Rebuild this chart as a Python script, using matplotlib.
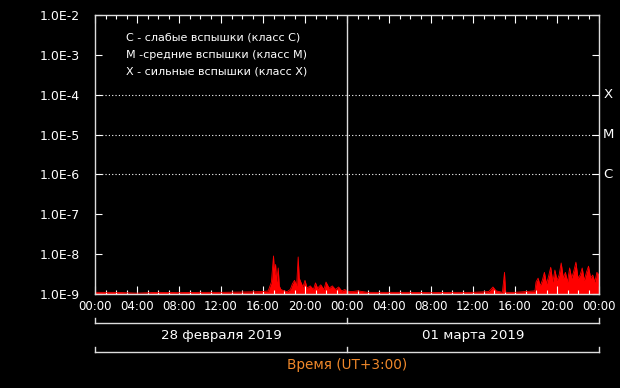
import matplotlib
matplotlib.use("Agg")
import matplotlib.pyplot as plt
from matplotlib.ticker import FixedLocator, MultipleLocator, NullFormatter
import numpy as np

# hours since 00:00 28.02.2019 and X-ray flux (x 1e-9)
hours = [0, 2, 4, 6, 8, 10, 12, 14, 16, 16.5, 16.8, 17.0, 17.1, 17.2, 17.3,
         17.45, 17.55, 17.7, 18.0, 18.3, 18.6, 18.8, 19.0, 19.2, 19.35, 19.45,
         19.6, 19.8, 20.0, 20.2, 20.5, 20.8, 21.0, 21.2, 21.5, 21.8, 22.0,
         22.3, 22.6, 22.9, 23.2, 23.5, 23.8, 24.0,
         24.5, 25, 26, 28, 30, 32, 34, 36, 37.5, 37.9, 38.2, 38.8, 39.0, 39.1,
         40, 41, 41.9, 42.0, 42.2, 42.4, 42.6, 42.8, 43.0, 43.2, 43.4, 43.6,
         43.8, 44.0, 44.2, 44.4, 44.6, 44.8, 45.0, 45.2, 45.4, 45.6, 45.8,
         46.0, 46.2, 46.4, 46.6, 46.8, 47.0, 47.2, 47.4, 47.6, 47.8, 48.0]
flux = [1.1, 1.1, 1.05, 1.1, 1.08, 1.1, 1.1, 1.12, 1.15, 1.2, 2.0, 9.0, 3.0,
        5.5, 2.0, 4.5, 1.6, 1.3, 1.2, 1.15, 1.3, 1.8, 2.2, 1.6, 8.5, 2.5,
        2.0, 1.5, 2.2, 1.4, 1.6, 1.3, 1.9, 1.4, 1.7, 1.3, 2.0,
        1.4, 1.6, 1.3, 1.5, 1.2, 1.3, 1.15,
        1.15, 1.2, 1.1, 1.1, 1.1, 1.08, 1.1, 1.1, 1.15, 1.5, 1.2, 1.1, 3.5, 1.1,
        1.1, 1.15, 1.2, 2.0, 2.5, 1.6, 2.2, 3.5, 1.8, 2.8, 4.7, 2.0,
        4.0, 2.2, 3.0, 6.0, 2.5, 3.5, 2.0, 4.5, 2.5, 3.8, 6.3,
        2.5, 3.0, 4.5, 2.2, 3.5, 5.0, 2.5, 3.0, 2.0, 3.5, 3.0]

decades = [1e-9, 1e-8, 1e-7, 1e-6, 1e-5, 1e-4, 1e-3, 1e-2]
decade_labels = ["1.0E-9", "1.0E-8", "1.0E-7", "1.0E-6", "1.0E-5", "1.0E-4", "1.0E-3", "1.0E-2"]
time_labels = ["00:00", "04:00", "08:00", "12:00", "16:00", "20:00"] * 2 + ["00:00"]
days = ["28 февраля 2019", "01 марта 2019"]
classes = [("X", 1e-4), ("M", 1e-5), ("C", 1e-6)]
legend_lines = ["C - слабые вспышки (класс C)",
                "M -средние вспышки (класс M)",
                "X - сильные вспышки (класс X)"]

W, H = 620, 388
fig = plt.figure(figsize=(6.2, 3.88), dpi=100, facecolor="black")
ax = fig.add_axes([95 / W, 1 - 294 / H, 504 / W, 279 / H], facecolor="black")

t = np.array(hours)
f = np.array(flux) * 1e-9
ax.fill_between(t, 1e-9, f, color="red", lw=0)
ax.plot(t, f, color="red", lw=0.6)

ax.set_yscale("log")
ax.set_ylim(1e-9, 1e-2)
ax.set_xlim(0, 48)

for name, lvl in classes:
    ax.axhline(lvl, color="white", ls=(0, (1, 2)), lw=0.8)
    ax.text(1.018, lvl, name, transform=ax.get_yaxis_transform(), color="white",
            fontsize=9.5, va="center", ha="center")
ax.axvline(24, color="#dddddd", lw=1)

ax.yaxis.set_major_locator(FixedLocator(decades))
ax.set_yticklabels(decade_labels)
ax.yaxis.set_minor_locator(FixedLocator([]))
ax.xaxis.set_minor_locator(MultipleLocator(1))
ax.xaxis.set_minor_formatter(NullFormatter())
ax.set_xticks(np.arange(0, 49, 4))
ax.set_xticklabels(time_labels)

ax.tick_params(axis="both", which="both", direction="in", colors="white",
               top=True, right=True, width=0.8)
ax.tick_params(axis="x", which="major", length=6, pad=4, labelsize=8.5)
ax.tick_params(axis="x", which="minor", length=3)
ax.tick_params(axis="y", which="major", length=5, pad=11, labelsize=9)
for s in ax.spines.values():
    s.set_color("#dddddd")
    s.set_linewidth(1)

for i, line in enumerate(legend_lines):
    fig.text(126 / W, 1 - (38 + 17 * i) / H, line, color="white", fontsize=8,
             va="center", ha="left")

# date brackets under the axis
x0, xm, x1 = 95 / W, 347 / W, 599 / W
for yb in (323, 352):
    yy = 1 - yb / H
    up = 5 / H
    fig.add_artist(plt.Line2D([x0, x1], [yy, yy], color="#dddddd", lw=1))
    for xx in (x0, xm, x1):
        fig.add_artist(plt.Line2D([xx, xx], [yy, yy + up], color="#dddddd", lw=1))
fig.text((x0 + xm) / 2, 1 - 335 / H, days[0], color="white", fontsize=9.6,
         ha="center", va="center")
fig.text((xm + x1) / 2, 1 - 335 / H, days[1], color="white", fontsize=9.6,
         ha="center", va="center")
fig.text(xm, 1 - 365 / H, "Время (UT+3:00)", color="#f0882a", fontsize=9.8,
         ha="center", va="center")

fig.savefig("out.png", dpi=100, facecolor="black")
